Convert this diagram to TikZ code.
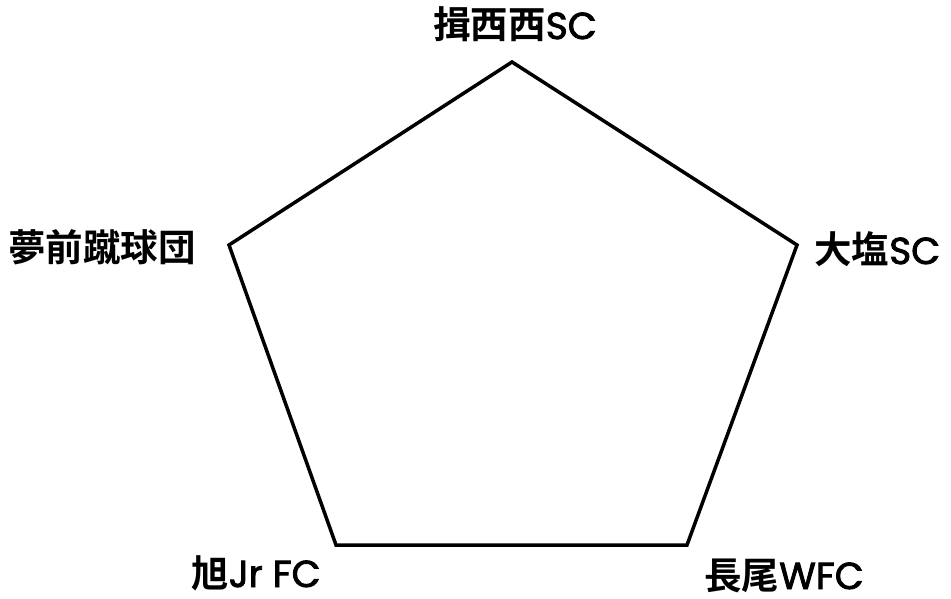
\documentclass[tikz,border=0pt]{standalone}
\usepackage{fontspec}
\setmainfont{Noto Sans CJK JP}[BoldFont={* Bold}]
\newfontfamily\lat{Poppins}[FakeBold=2.2]
\newcommand{\LT}[1]{{\lat\mdseries #1}}
\tikzset{lbl/.style={font=\fontsize{37.5}{42}\selectfont\bfseries, inner sep=0pt, text depth=0pt}}
\begin{document}
\begin{tikzpicture}[x=1pt,y=1pt]
\useasboundingbox (0,0) rectangle (951,598);
\coordinate (t) at (512,536);
\coordinate (r) at (797,353);
\coordinate (br) at (687,53);
\coordinate (bl) at (336,53);
\coordinate (l) at (229,353);
\draw[line width=3.5pt, line join=miter] (t) -- (r) -- (br) -- (bl) -- (l) -- cycle;
\node[lbl, anchor=base] (nt) at (515,559) {揖西西\LT{SC}};
\node[lbl, anchor=base west] (nr) at (814,334) {大塩\LT{SC}};
\node[lbl, anchor=base east] (nl) at (196,336) {夢前蹴球団};
\node[lbl, anchor=base] (nbl) at (256,11) {旭\LT{Jr FC}};
\node[lbl, anchor=base] (nbr) at (784,9) {長尾\LT{WFC}};
\end{tikzpicture}
\end{document}
